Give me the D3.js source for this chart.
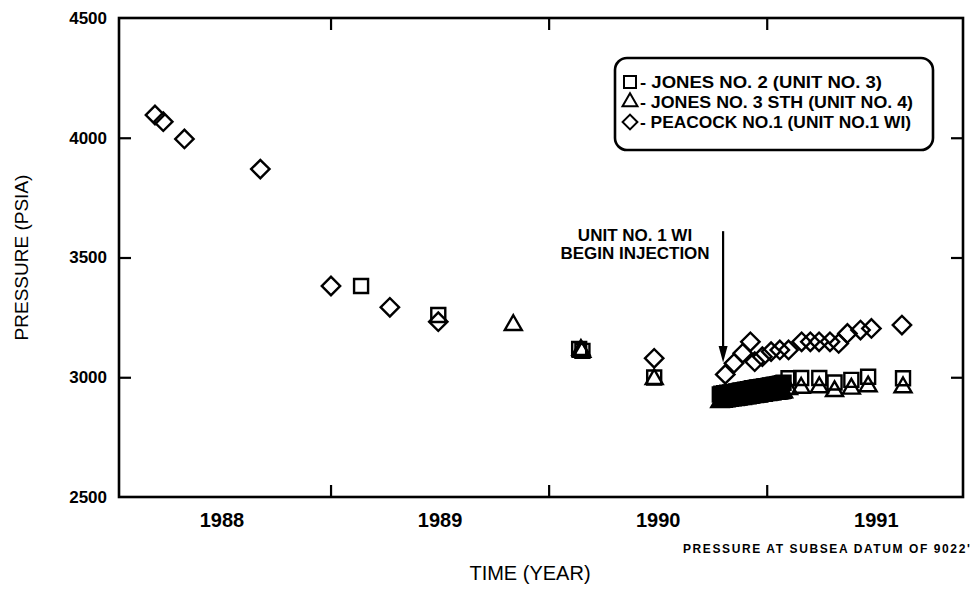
<!DOCTYPE html>
<html>
<head>
<meta charset="utf-8">
<script src="https://cdn.jsdelivr.net/npm/d3@7"></script>
<style>
  body { margin: 0; background: #fff; }
  svg { display: block; font-family: "Liberation Sans", Arial, sans-serif; }
</style>
</head>
<body>
<div class="chart"></div>
<script>
// values
const yearLabels = [1988, 1989, 1990, 1991]
const yearTicks = [1988.5, 1989.5, 1990.5]
const pressureTicks = [2500, 3000, 3500, 4000, 4500]
const innerTicks = [3000, 3500, 4000]

const peacockYears = [1987.695, 1987.733, 1987.83, 1988.178, 1988.502, 1988.772, 1988.994, 1989.984,
    1990.31, 1990.35, 1990.39, 1990.425, 1990.445, 1990.48, 1990.52, 1990.56, 1990.60, 1990.66,
    1990.70, 1990.74, 1990.79, 1990.83, 1990.87, 1990.93, 1990.98, 1991.12]
const peacockPsia = [4095, 4067, 3995, 3869, 3381, 3292, 3232, 3079,
    3012, 3058, 3100, 3148, 3065, 3086, 3107, 3114, 3114, 3148,
    3148, 3148, 3148, 3141, 3183, 3197, 3204, 3218]

// frequent readings right after injection start (the black smear)
const blobYears = [1990.285, 1990.292, 1990.299, 1990.305, 1990.312, 1990.319, 1990.326, 1990.332, 1990.339, 1990.346,
    1990.353, 1990.360, 1990.366, 1990.373, 1990.380, 1990.387, 1990.393, 1990.400, 1990.407, 1990.414,
    1990.421, 1990.427, 1990.434, 1990.441, 1990.448, 1990.455, 1990.461, 1990.468, 1990.475, 1990.482,
    1990.488, 1990.495, 1990.502, 1990.509, 1990.516, 1990.522, 1990.529, 1990.536, 1990.543, 1990.549,
    1990.556, 1990.563, 1990.570, 1990.577]

const jones2Years = [1988.64, 1988.994, 1989.64, 1989.655, 1989.984,
    ...blobYears,
    1990.60, 1990.658, 1990.741, 1990.811, 1990.888, 1990.965, 1991.125]
const jones2Psia = [3381, 3260, 3118, 3110, 2999,
    2928, 2931, 2929, 2933, 2932, 2935, 2933, 2937, 2936, 2939, 2938, 2941, 2940, 2943, 2945,
    2943, 2946, 2948, 2947, 2950, 2949, 2952, 2954, 2952, 2955, 2957, 2956, 2958, 2960, 2959,
    2962, 2963, 2962, 2965, 2966, 2965, 2968, 2969, 2968, 2971, 2972, 2973, 2975, 2977,
    2996, 2997, 2997, 2978, 2989, 3002, 2996]

const jones3Years = [1989.338, 1989.648, 1989.652, 1989.984,
    ...blobYears,
    1990.60, 1990.658, 1990.741, 1990.811, 1990.888, 1990.965, 1991.125]
const jones3Psia = [3218, 3114, 3106, 2992,
    2896, 2899, 2897, 2900, 2899, 2902, 2901, 2904, 2903, 2905, 2904, 2907, 2906, 2909, 2910,
    2909, 2912, 2913, 2912, 2915, 2914, 2916, 2918, 2917, 2919, 2920, 2919, 2922, 2923, 2922,
    2925, 2926, 2925, 2927, 2928, 2928, 2930, 2931, 2930, 2932, 2933, 2934, 2935, 2937,
    2950, 2956, 2958, 2942, 2952, 2962, 2958]

const legendLabels = ["- JONES NO. 2 (UNIT NO. 3)", "- JONES NO. 3 STH (UNIT NO. 4)", "- PEACOCK NO.1 (UNIT NO.1 WI)"]
const injectionYear = 1990.30

const width = 973,
    height = 589

const x = d3.scaleLinear().domain([1987.53, 1991.4]).range([119, 963])
const y = d3.scaleLinear().domain([2500, 4500]).range([497, 18])

const svg = d3.select(".chart")
    .append("svg")
    .attr("width", width)
    .attr("height", height)

// inward ticks on all four sides
svg.append("g")
    .attr("transform", `translate(0,${y(2500)})`)
    .call(d3.axisBottom(x).tickValues(yearTicks).tickSize(-12).tickFormat(""))
svg.append("g")
    .attr("transform", `translate(0,${y(4500)})`)
    .call(d3.axisTop(x).tickValues(yearTicks).tickSize(-12).tickFormat(""))
svg.append("g")
    .attr("transform", `translate(${x.range()[0]},0)`)
    .call(d3.axisLeft(y).tickValues(innerTicks).tickSize(-12).tickFormat(""))
svg.append("g")
    .attr("transform", `translate(${x.range()[1]},0)`)
    .call(d3.axisRight(y).tickValues(innerTicks).tickSize(-12).tickFormat(""))

// labels
svg.append("g")
    .attr("class", "y-labels")
    .attr("transform", `translate(${x.range()[0]},0)`)
    .call(d3.axisLeft(y).tickValues(pressureTicks).tickSize(0).tickPadding(12).tickFormat(d3.format("d")))
svg.append("g")
    .attr("class", "x-labels")
    .attr("transform", `translate(0,${y(2500)})`)
    .call(d3.axisBottom(x).tickValues(yearLabels).tickSize(0).tickPadding(16).tickFormat(d3.format("d")))

svg.selectAll(".domain").remove()
svg.selectAll(".tick line").attr("stroke", "#000").attr("stroke-width", 2.2)
svg.selectAll(".y-labels text")
    .style("font", "bold 17px 'Liberation Sans', Arial, sans-serif")
    .attr("fill", "#000")
svg.selectAll(".x-labels text")
    .style("font", "bold 20px 'Liberation Sans', Arial, sans-serif")
    .attr("fill", "#000")

svg.append("rect")
    .attr("x", x.range()[0])
    .attr("y", y(4500))
    .attr("width", x.range()[1] - x.range()[0])
    .attr("height", y(2500) - y(4500))
    .attr("fill", "none")
    .attr("stroke", "#000")
    .attr("stroke-width", 2.6)

svg.append("text")
    .attr("transform", `translate(28,${(y(2500) + y(4500)) / 2}) rotate(-90)`)
    .attr("text-anchor", "middle")
    .style("font-size", "19px")
    .text("PRESSURE (PSIA)")

svg.append("text")
    .attr("x", 530)
    .attr("y", 580)
    .attr("text-anchor", "middle")
    .style("font-size", "20px")
    .text("TIME (YEAR)")

svg.append("text")
    .attr("x", 683)
    .attr("y", 553)
    .style("font", "bold 12px 'Liberation Sans', Arial, sans-serif")
    .style("letter-spacing", "1.6px")
    .text("PRESSURE AT SUBSEA DATUM OF 9022'")

// markers
const diamond = d3.symbol().type(d3.symbolSquare).size(169)
const square = d3.symbol().type(d3.symbolSquare).size(196)
const triangle = d3.symbol().type(d3.symbolTriangle).size(125)

function plotSeries(years, psia, shape, rotate) {
    svg.append("g")
        .selectAll("path")
        .data(years.map((d, i) => [d, psia[i]]))
        .join("path")
        .attr("d", shape)
        .attr("transform", d => `translate(${x(d[0])},${y(d[1])}) rotate(${rotate})`)
        .attr("fill", "none")
        .attr("stroke", "#000")
        .attr("stroke-width", 2.4)
}

plotSeries(peacockYears, peacockPsia, diamond, 45)
plotSeries(jones2Years, jones2Psia, square, 0)
plotSeries(jones3Years, jones3Psia, triangle, 0)

// injection annotation
const arrowX = x(injectionYear)
svg.append("line")
    .attr("x1", arrowX).attr("x2", arrowX)
    .attr("y1", y(3610)).attr("y2", y(3110))
    .attr("stroke", "#000")
    .attr("stroke-width", 2.2)
svg.append("path")
    .attr("d", `M${arrowX - 4.5},${y(3130)} L${arrowX + 4.5},${y(3130)} L${arrowX},${y(3062)} Z`)
    .attr("fill", "#000")

const note = svg.append("text")
    .attr("text-anchor", "middle")
    .style("font", "bold 17px 'Liberation Sans', Arial, sans-serif")
note.append("tspan").attr("x", 635).attr("y", 241).text("UNIT NO. 1 WI")
note.append("tspan").attr("x", 635).attr("y", 259).text("BEGIN INJECTION")

// legend
const legendWidths = [242, 273, 271]
const legend = svg.append("g")
legend.append("rect")
    .attr("x", 615).attr("y", 58)
    .attr("width", 318).attr("height", 92)
    .attr("rx", 12)
    .attr("fill", "#fff")
    .attr("stroke", "#000")
    .attr("stroke-width", 2.6)

const legendShapes = [
    d3.symbol().type(d3.symbolSquare).size(144)(),
    d3.symbol().type(d3.symbolTriangle).size(97)(),
    d3.symbol().type(d3.symbolSquare).size(110)()
]
legend.selectAll(".legend-item")
    .data(legendLabels)
    .join("g")
    .attr("class", "legend-item")
    .attr("transform", (d, i) => `translate(630,${82 + i * 20})`)
    .each(function (d, i) {
        const g = d3.select(this)
        g.append("path")
            .attr("d", legendShapes[i])
            .attr("transform", i === 2 ? "rotate(45)" : null)
            .attr("fill", "none")
            .attr("stroke", "#000")
            .attr("stroke-width", 2)
        g.append("text")
            .attr("x", 10)
            .attr("y", 6)
            .attr("textLength", legendWidths[i])
            .attr("lengthAdjust", "spacingAndGlyphs")
            .style("font", "bold 17px 'Liberation Sans', Arial, sans-serif")
            .text(d)
    })
</script>
</body>
</html>
